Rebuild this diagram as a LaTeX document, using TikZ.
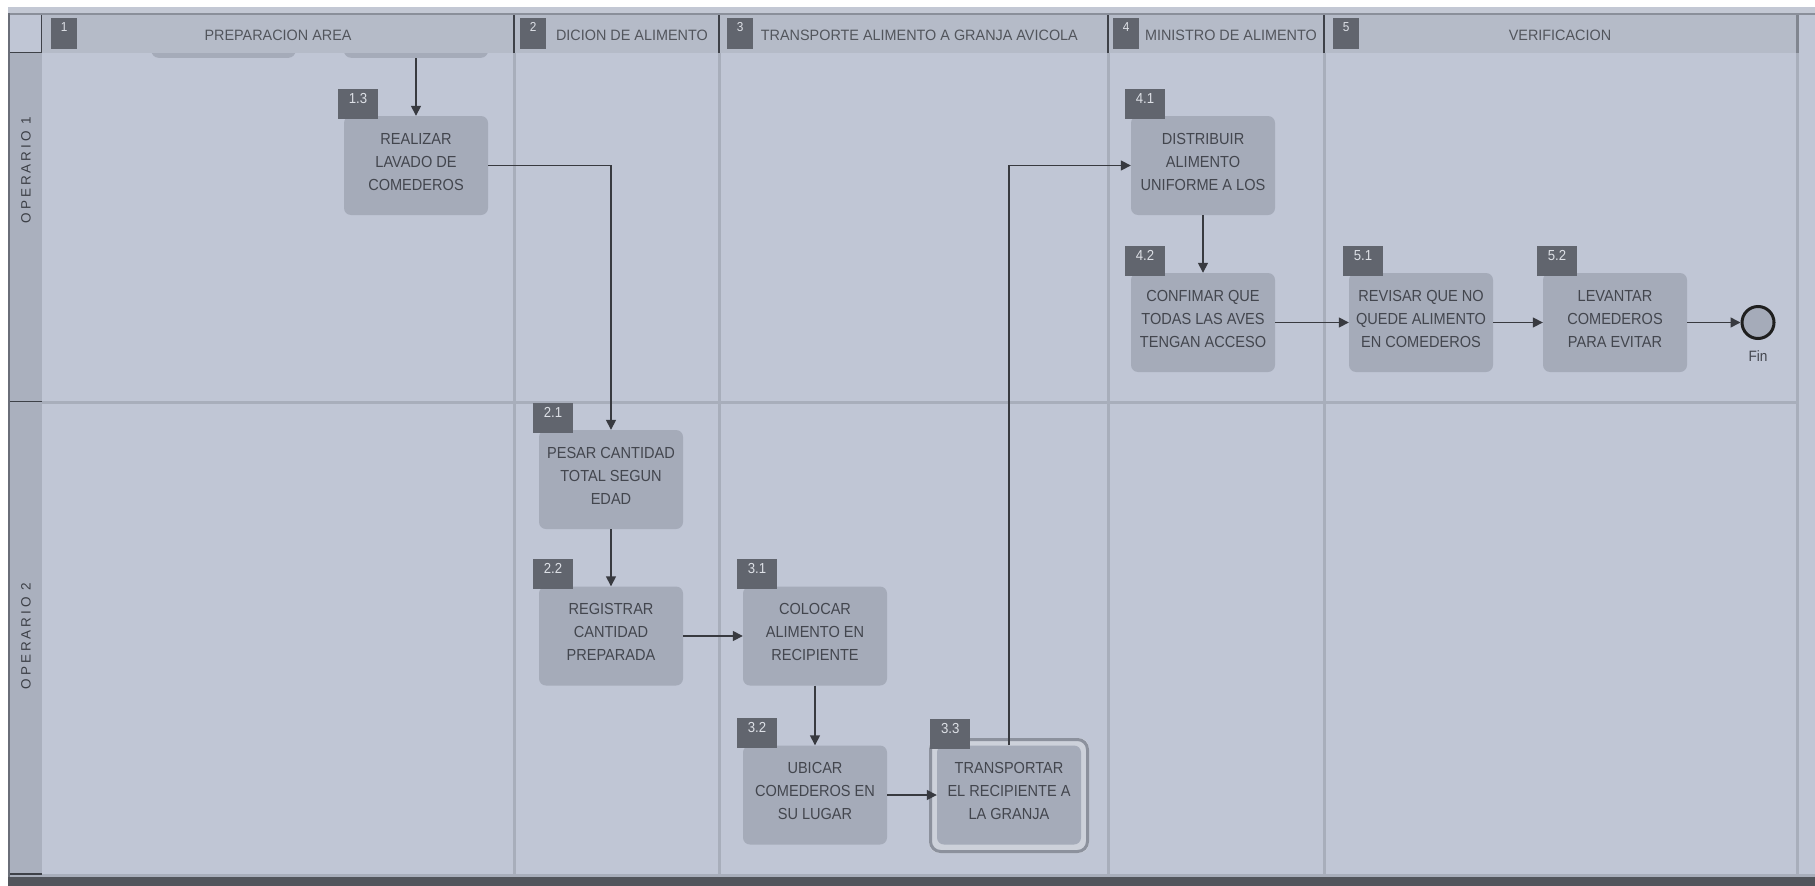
\documentclass[tikz,border=0pt]{standalone}
\usepackage{fontspec}
\setmainfont{Liberation Sans}
\newfontfamily\boxfont[FakeStretch=0.91]{Liberation Sans}
\newfontfamily\hdrfont[FakeStretch=0.96]{Liberation Sans}
\newfontfamily\lanefont[LetterSpace=22]{Liberation Sans}
\usetikzlibrary{arrows.meta,positioning,calc}
\definecolor{lanebg}{HTML}{C0C6D5}
\definecolor{hdrbg}{HTML}{B5BBC8}
\definecolor{leftcol}{HTML}{AAB0BE}
\definecolor{boxfill}{HTML}{A5ABB9}
\definecolor{tagfill}{HTML}{61656E}
\definecolor{tagtxt}{HTML}{DDE0E6}
\definecolor{divider}{HTML}{A8AEBB}
\definecolor{hdrline}{HTML}{3E4148}
\definecolor{txt}{HTML}{43464E}
\definecolor{conn}{HTML}{383A40}
\definecolor{band}{HTML}{52555C}
\definecolor{topstrip}{HTML}{C3C8D4}
\definecolor{topline}{HTML}{8A8F9A}
\definecolor{leftline}{HTML}{6A6E78}
\definecolor{ringline}{HTML}{8C919D}
\definecolor{ringlight}{HTML}{CDD1DA}
\definecolor{rightline}{HTML}{80858F}
\begin{document}
\begin{tikzpicture}[x=1pt,y=-1pt,
  stepbox/.style={rectangle, rounded corners=7pt, fill=boxfill, minimum width=144pt, minimum height=99pt, inner sep=0pt, align=center, text=txt, font=\boxfont\fontsize{16}{23}\selectfont, execute at end node={\rule[-8pt]{0pt}{8pt}}},
  steptag/.style={rectangle, fill=tagfill, minimum width=40pt, minimum height=30pt, inner sep=0pt, text=tagtxt, font=\boxfont\fontsize{14.5}{14.5}\selectfont, text height=10pt, text depth=11pt, anchor=south west},
  hdrtag/.style={rectangle, fill=tagfill, minimum width=26pt, minimum height=31pt, inner sep=0pt, text=tagtxt, font=\boxfont\fontsize{13}{13}\selectfont, text height=9pt, text depth=14pt, anchor=north west},
  hdrtext/.style={inner sep=0pt, text=txt!92!white, font=\hdrfont\fontsize{15}{15}\selectfont},
  lanetext/.style={inner sep=0pt, text=txt!90!black, rotate=90, font=\lanefont\fontsize{13.5}{13.5}\selectfont},
  conline/.style={draw=conn, line width=1.5pt, -{Triangle[length=10pt,width=10pt]}},
  bodydiv/.style={draw=divider, line width=3pt},
  hdrdiv/.style={draw=hdrline, line width=1.5pt}
]
\useasboundingbox (0,0) rectangle (1815,886);
\fill[white] (0,0) rectangle (1815,886);
% main background
\fill[lanebg] (8,7) rectangle (1815,877);
\fill[topstrip] (8,7) rectangle (1815,13);
\fill[band] (8,877) rectangle (1815,886);
\fill[divider] (8,873.5) rectangle (1815,877);
% left lane column
\fill[leftcol] (10,53) rectangle (42,874);
% partially hidden boxes 1.1 and 1.2
\begin{scope}
\clip (42,15) rectangle (1797,874);
\node[stepbox, anchor=south] (b11) at (223.5,58) {};
\node[stepbox, anchor=south] (b12) at (416,58) {};
\end{scope}
% header band
\fill[hdrbg] (42,15) rectangle (1797,53);
\fill[lanebg] (10,15) rectangle (41,52);
\draw[hdrdiv] (41.25,15) -- (41.25,53);
\draw[hdrdiv] (10,52.5) -- (42,52.5);
\draw[topline, line width=2pt] (8,14) -- (1815,14);
\draw[leftline, line width=1.5pt] (9,13) -- (9,877);
% body dividers
\foreach \xx in {514,719,1108,1324} {\draw[bodydiv] (\xx,53) -- (\xx,874);}
\draw[bodydiv] (1797.5,53) -- (1797.5,874);
\draw[bodydiv] (42,402) -- (1797,402);
\draw[hdrdiv] (10,401.5) -- (42,401.5);
\draw[hdrdiv] (10,874) -- (42,874);
% header dividers
\foreach \xx in {514,719,1108,1324} {\draw[hdrdiv] (\xx,15) -- (\xx,53);}
\draw[rightline, line width=3pt] (1797.5,15) -- (1797.5,53);
% header texts
\node[hdrtext] (h1) at (278,35) {PREPARACION AREA};
\node[hdrtext, anchor=east] (h2) at (708,35) {DICION DE ALIMENTO};
\node[hdrtext, anchor=east] (h3) at (1078,35) {TRANSPORTE ALIMENTO A GRANJA AVICOLA};
\node[hdrtext, anchor=east] (h4) at (1317,35) {MINISTRO DE ALIMENTO};
\node[hdrtext] (h5) at (1560,35) {VERIFICACION};
% header tags
\node[hdrtag] (g1) at (51,18) {1};
\node[hdrtag] (g2) at (520,18) {2};
\node[hdrtag] (g3) at (727,18) {3};
\node[hdrtag] (g4) at (1113,18) {4};
\node[hdrtag] (g5) at (1333,18) {5};
% lane labels
\node[lanetext] (l1) at (26,170) {OPERARIO 1};
\node[lanetext] (l2) at (26,636) {OPERARIO 2};
% ring of 3.3
\fill[ringlight, rounded corners=10pt] (929,738) rectangle (1089,853);
\draw[ringline, line width=3pt, rounded corners=10pt] (930.5,739.5) rectangle (1087.5,851.5);
% steps
\node[stepbox] (b13) at (416,165.5) {REALIZAR\\LAVADO DE\\COMEDEROS};
\node[stepbox] (b21) at (611,479.5) {PESAR CANTIDAD\\TOTAL SEGUN\\EDAD};
\node[stepbox] (b22) at (611,636) {REGISTRAR\\CANTIDAD\\PREPARADA};
\node[stepbox] (b31) at (815,636) {COLOCAR\\ALIMENTO EN\\RECIPIENTE};
\node[stepbox] (b32) at (815,795) {UBICAR\\COMEDEROS EN\\SU LUGAR};
\node[stepbox] (b33) at (1009,795) {TRANSPORTAR\\EL RECIPIENTE A\\LA GRANJA};
\node[stepbox] (b41) at (1203,165.5) {DISTRIBUIR\\ALIMENTO\\UNIFORME A LOS};
\node[stepbox] (b42) at (1203,322.5) {CONFIMAR QUE\\TODAS LAS AVES\\TENGAN ACCESO};
\node[stepbox] (b51) at (1421,322.5) {REVISAR QUE NO\\QUEDE ALIMENTO\\EN COMEDEROS};
\node[stepbox] (b52) at (1615,322.5) {LEVANTAR\\COMEDEROS\\PARA EVITAR};
% step tags
\node[steptag] (t13) at ($(b13.north west)+(-6,3)$) {1.3};
\node[steptag] (t21) at ($(b21.north west)+(-6,3)$) {2.1};
\node[steptag] (t22) at ($(b22.north west)+(-6,3)$) {2.2};
\node[steptag] (t31) at ($(b31.north west)+(-6,3)$) {3.1};
\node[steptag] (t32) at ($(b32.north west)+(-6,3)$) {3.2};
\node[steptag] (t33) at (930,749) {3.3};
\node[steptag] (t41) at ($(b41.north west)+(-6,3)$) {4.1};
\node[steptag] (t42) at ($(b42.north west)+(-6,3)$) {4.2};
\node[steptag] (t51) at ($(b51.north west)+(-6,3)$) {5.1};
\node[steptag] (t52) at ($(b52.north west)+(-6,3)$) {5.2};
% end event
\node[circle, draw=black!88, line width=3pt, fill=boxfill, minimum size=32pt, inner sep=0pt] (fin) at (1758,322.5) {};
\node[below=10pt of fin, inner sep=0pt, text=txt, font=\boxfont\fontsize{15}{15}\selectfont] (finlbl) {Fin};
% connectors
\draw[conline] (b12.south) -- (b13.north);
\draw[conline] (b13.east) -| (b21.north);
\draw[conline] (b21.south) -- (b22.north);
\draw[conline] (b22.east) -- (b31.west);
\draw[conline] (b31.south) -- (b32.north);
\draw[conline] (b32.east) -- (b33.west);
\draw[conline] (b33.north) |- (b41.west);
\draw[conline] (b41.south) -- (b42.north);
\draw[conline] (b42.east) -- (b51.west);
\draw[conline] (b51.east) -- (b52.west);
\draw[conline] (b52.east) -- (fin.west);
\end{tikzpicture}
\end{document}
